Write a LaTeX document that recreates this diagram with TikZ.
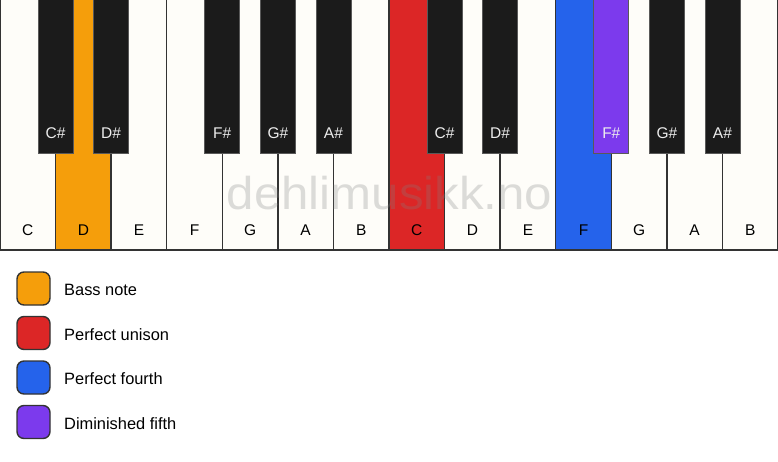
\documentclass[tikz,border=0pt]{standalone}
\usepackage{fontspec}
\setmainfont{Liberation Sans}
\definecolor{keywhite}{HTML}{FEFDF9}
\definecolor{keyblack}{HTML}{1B1B1B}
\definecolor{keyline}{HTML}{333333}
\definecolor{cbass}{HTML}{F59E0B}
\definecolor{cunison}{HTML}{DC2626}
\definecolor{cfourth}{HTML}{2563EB}
\definecolor{cfifth}{HTML}{7C3AED}
\begin{document}
\begin{tikzpicture}[x=1pt,y=-1pt,
  whitekey/.style={draw=keyline,line width=1.4pt,fill=keywhite},
  blackkey/.style={draw=black!65,line width=0.8pt,fill=keyblack},
  wlabel/.style={font=\fontsize{15.5}{15.5}\selectfont,text=black,inner sep=0pt,anchor=center},
  blabel/.style={font=\fontsize{15.5}{15.5}\selectfont,text=white!93!black,inner sep=0pt,anchor=center},
  legbox/.style={draw=keyline,line width=1.4pt,rounded corners=7pt,minimum width=33pt,minimum height=33pt,inner sep=0pt},
  legtext/.style={font=\fontsize{16.4}{16.4}\selectfont,anchor=west,inner sep=0pt},
  wmark/.style={font=\fontsize{46}{46}\selectfont,text=gray,opacity=0.27,inner sep=0pt,xscale=1.07}]
\useasboundingbox[fill=white] (0,0) rectangle (778,461);
\def\w{55.5714}
% white keys
\foreach \n/\c [count=\i from 0] in {C/keywhite,D/cbass,E/keywhite,F/keywhite,G/keywhite,A/keywhite,B/keywhite,C/cunison,D/keywhite,E/keywhite,F/cfourth,G/keywhite,A/keywhite,B/keywhite}{
  \path[whitekey,fill=\c] ({\i*\w},-2) rectangle ({(\i+1)*\w},250);
  \node[wlabel] (w\i) at ({(\i+0.5)*\w},230) {\n};
}
% watermark
\node[wmark] (wm) at (389.5,193) {dehlimusikk.no};
% black keys
\foreach \b/\n/\c in {1/C\#/keyblack,2/D\#/keyblack,4/F\#/keyblack,5/G\#/keyblack,6/A\#/keyblack,8/C\#/keyblack,9/D\#/keyblack,11/F\#/cfifth,12/G\#/keyblack,13/A\#/keyblack}{
  \path[blackkey,fill=\c] ({\b*\w-17.5},-2) rectangle ({\b*\w+17.5},153);
  \node[blabel] (b\b) at ({\b*\w},133) {\n};
}
% legend
\node[legbox,fill=cbass] (l1) at (33.5,288.5) {};
\node[legtext] (t1) at (64,290) {Bass note};
\node[legbox,fill=cunison] (l2) at (33.5,333) {};
\node[legtext] (t2) at (64,334.5) {Perfect unison};
\node[legbox,fill=cfourth] (l3) at (33.5,377.5) {};
\node[legtext] (t3) at (64,379) {Perfect fourth};
\node[legbox,fill=cfifth] (l4) at (33.5,422) {};
\node[legtext] (t4) at (64,423.5) {Diminished fifth};
\end{tikzpicture}
\end{document}
